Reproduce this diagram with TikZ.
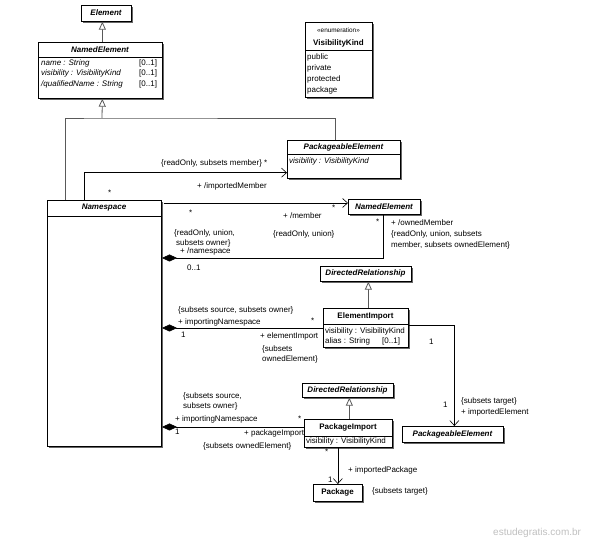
\documentclass[tikz,border=0pt]{standalone}
\usepackage{fontspec}
\setmainfont{Liberation Sans}
\usetikzlibrary{shadows,arrows.meta}
\tikzset{
  box/.style={draw=black, line width=0.7pt, fill=white, inner sep=0pt, anchor=north west,
    drop shadow={shadow xshift=1.3pt, shadow yshift=-1.3pt, fill=black!60, opacity=1}},
  lbl/.style={font=\fontsize{8}{9}\selectfont, inner sep=0pt, anchor=west},
  ilbl/.style={lbl, font=\fontsize{8}{9}\selectfont\itshape},
  cname/.style={font=\fontsize{8}{9}\selectfont\bfseries, inner sep=0pt},
  aname/.style={font=\fontsize{8}{9}\selectfont\bfseries\itshape, inner sep=0pt},
  divider/.style={draw=black, line width=0.6pt},
  assoc/.style={draw=black, line width=0.6pt},
  gen/.style={draw=black!65, line width=0.8pt},
  navi/.style={-{Straight Barb[length=5pt,width=9pt]}},
  genarrow/.style={-{Triangle[length=8pt,width=7pt,fill=white]}},
  compo/.style={{Diamond[length=15pt,width=7pt]}-},
}
\begin{document}
\begin{tikzpicture}[x=1pt,y=-1pt]
\useasboundingbox (0,0) rectangle (590,540);
% ---------- boxes ----------
\node[box, minimum width=50pt, minimum height=16pt] (el) at (81,5) {};
\node[aname] (elT) at (106,13) {Element};

\node[box, minimum width=124pt, minimum height=56pt] (ne1) at (38,42) {};
\node[aname] (ne1T) at (100,50) {NamedElement};
\draw[divider] (ne1.west |- 0,57) -- (ne1.east |- 0,57);
\node[ilbl] (ne1a) at (41,63) {name : String};
\node[ilbl] (ne1b) at (41,73) {visibility : VisibilityKind};
\node[ilbl] (ne1c) at (41,84) {/qualifiedName : String};
\node[lbl] (ne1am) at (139,63) {[0..1]};
\node[lbl] (ne1bm) at (139,73) {[0..1]};
\node[lbl] (ne1cm) at (139,84) {[0..1]};

\node[box, minimum width=67pt, minimum height=75pt] (vk) at (305,22) {};
\node[font=\fontsize{6.4}{7}\selectfont, inner sep=0pt] (vkS) at (338.5,30) {«enumeration»};
\node[cname] (vkT) at (338.5,43) {VisibilityKind};
\draw[divider] (vk.west |- 0,50) -- (vk.east |- 0,50);
\node[lbl] (vk1) at (307,57) {public};
\node[lbl] (vk2) at (307,68) {private};
\node[lbl] (vk3) at (307,79) {protected};
\node[lbl] (vk4) at (307,90) {package};

\node[box, minimum width=113pt, minimum height=38pt] (pe1) at (287,140) {};
\node[aname] (pe1T) at (343.5,147) {PackageableElement};
\draw[divider] (pe1.west |- 0,154) -- (pe1.east |- 0,154);
\node[ilbl] (pe1a) at (289,161) {visibility : VisibilityKind};

\node[box, minimum width=114pt, minimum height=246pt] (ns) at (47,200) {};
\node[aname] (nsT) at (104,208) {Namespace};
\draw[divider] (ns.west |- 0,216) -- (ns.east |- 0,216);

\node[box, minimum width=72pt, minimum height=15pt] (ne2) at (348,199) {};
\node[aname] (ne2T) at (384,206.5) {NamedElement};

\node[box, minimum width=91pt, minimum height=15pt] (dr1) at (320,266) {};
\node[aname] (dr1T) at (365.5,273.5) {DirectedRelationship};

\node[box, minimum width=85pt, minimum height=39pt] (ei) at (323,308) {};
\node[cname] (eiT) at (365.5,316) {ElementImport};
\draw[divider] (ei.west |- 0,324) -- (ei.east |- 0,324);
\node[lbl] (eia) at (325,331) {visibility : VisibilityKind};
\node[lbl] (eib) at (325,341) {alias : String};
\node[lbl] (eibm) at (382,341) {[0..1]};

\node[box, minimum width=101pt, minimum height=16pt] (pe2) at (402,426) {};
\node[aname] (pe2T) at (452.5,434) {PackageableElement};

\node[box, minimum width=91pt, minimum height=14pt] (dr2) at (302,383) {};
\node[aname] (dr2T) at (347.5,390) {DirectedRelationship};

\node[box, minimum width=88pt, minimum height=28pt] (pi) at (304,419) {};
\node[cname] (piT) at (348,427.5) {PackageImport};
\draw[divider] (pi.west |- 0,436) -- (pi.east |- 0,436);
\node[lbl] (pia) at (306,441.5) {visibility : VisibilityKind};

\node[box, minimum width=49pt, minimum height=17pt] (pk) at (313,484) {};
\node[cname] (pkT) at (337.5,492.5) {Package};

% ---------- generalizations ----------
\draw[gen, genarrow] ([xshift=2pt]ne1.north) -- ([xshift=2pt]ne1.north |- el.south);
\coordinate (j) at (102,118);
\coordinate (nsg) at (65,200);
\coordinate (peg) at (335,140);
\draw[gen] (nsg) |- (j) -| (peg);
\draw[gen, genarrow] (j) -- ([xshift=2pt]ne1.south);
\draw[gen, genarrow] ([xshift=2.5pt]ei.north) -- ([xshift=2.5pt]dr1.south);
\draw[gen, genarrow] ([xshift=1pt]pi.north) -- ([xshift=1pt]pi.north |- dr2.south);

% ---------- associations ----------
\coordinate (a1) at (84,200);
\draw[assoc, navi] (a1) |- ([yshift=6pt]pe1.south west);
\draw[assoc, navi] ([xshift=2pt,yshift=-3pt]ns.north east) -- ([yshift=-4pt]ne2.north west);
\coordinate (c1) at (162,258);
\draw[assoc, compo] (c1) -| ([xshift=-1pt]ne2.south);
\coordinate (c2) at (162,328);
\draw[assoc, compo] (c2) -- (ei.west |- c2);
\draw[assoc, navi] ([yshift=2.5pt]ei.east) -| ([xshift=1.5pt]pe2.north);
\coordinate (c3) at (162,427);
\draw[assoc, compo] (c3) -- (pi.west |- c3);
\draw[assoc, navi] (pi.south -| pk.north) -- (pk.north);

% ---------- labels ----------
\node[lbl] (l1) at (161,163) {\{readOnly, subsets member\} *};
\node[lbl] (l2) at (197,186) {+ /importedMember};
\node[lbl] (l3) at (108,193) {*};
\node[lbl] (l4) at (189,213) {*};
\node[lbl] (l5) at (283,216) {+ /member};
\node[lbl] (l6) at (332,208) {*};
\node[lbl] (l7) at (273,234) {\{readOnly, union\}};
\node[lbl] (l8) at (174,233) {\{readOnly, union,};
\node[lbl] (l9) at (176,243) {subsets owner\}};
\node[lbl] (l10) at (180,251) {+ /namespace};
\node[lbl] (l11) at (187,268) {0..1};
\node[lbl] (l12) at (376,222) {*};
\node[lbl] (l13) at (391,223) {+ /ownedMember};
\node[lbl] (l14) at (391,234) {\{readOnly, union, subsets};
\node[lbl] (l15) at (391,245) {member, subsets ownedElement\}};

\node[lbl] (m1) at (178,310) {\{subsets source, subsets owner\}};
\node[lbl] (m2) at (178,322) {+ importingNamespace};
\node[lbl] (m3) at (311,321) {*};
\node[lbl] (m4) at (181,335) {1};
\node[lbl] (m5) at (260,336) {+ elementImport};
\node[lbl] (m6) at (262,349) {\{subsets};
\node[lbl] (m7) at (262,359) {ownedElement\}};
\node[lbl] (m8) at (429,342) {1};
\node[lbl] (m9) at (443,405) {1};
\node[lbl] (m10) at (461,401) {\{subsets target\}};
\node[lbl] (m11) at (461,412) {+ importedElement};

\node[lbl] (p1) at (183,396) {\{subsets source,};
\node[lbl] (p2) at (183,406) {subsets owner\}};
\node[lbl] (p3) at (175,419) {+ importingNamespace};
\node[lbl] (p4) at (298,419) {*};
\node[lbl] (p5) at (175,432) {1};
\node[lbl] (p6) at (244,433) {+ packageImport};
\node[lbl] (p7) at (203,446) {\{subsets ownedElement\}};
\node[lbl] (p8) at (325,452) {*};
\node[lbl] (p9) at (328,480) {1};
\node[lbl] (p10) at (348,470) {+ importedPackage};
\node[lbl] (p11) at (372,491) {\{subsets target\}};

\node[lbl, font=\fontsize{10}{11}\selectfont, text=black!25] (wm) at (493,533) {estudegratis.com.br};
\end{tikzpicture}
\end{document}
